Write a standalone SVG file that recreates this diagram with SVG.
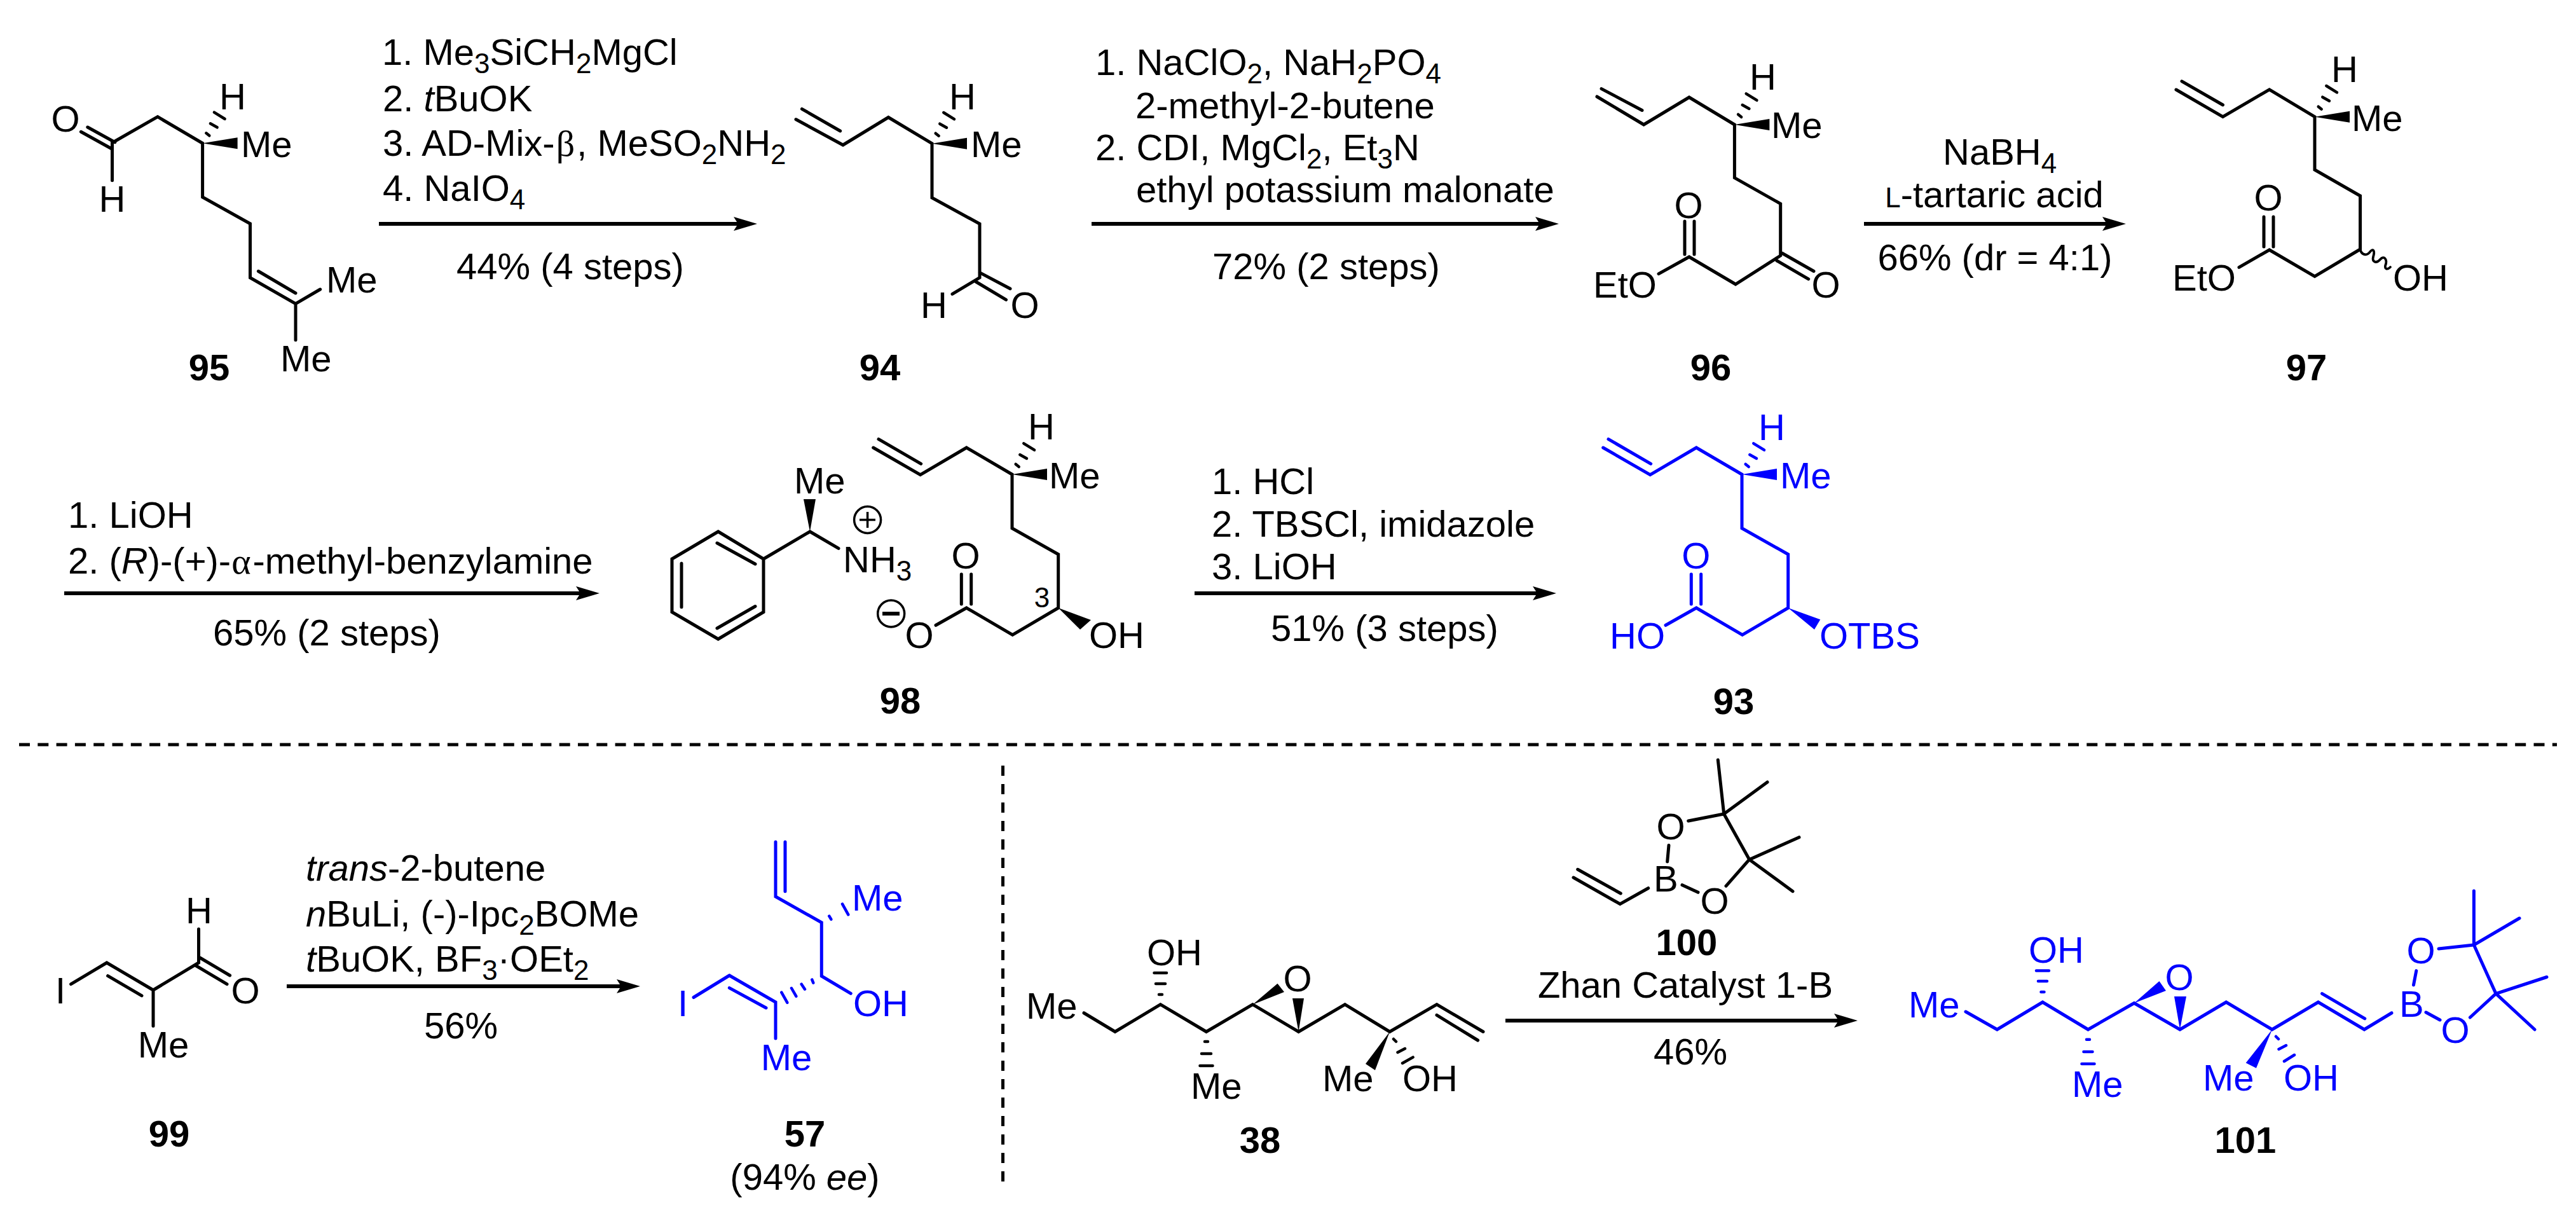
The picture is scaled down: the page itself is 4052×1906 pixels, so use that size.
<svg xmlns="http://www.w3.org/2000/svg" width="4052" height="1906" viewBox="0 0 4052 1906">
<style>
text{font-family:"Liberation Sans",Arial,sans-serif;font-size:58px;fill:currentColor}
.s{font-size:44px}
.g{font-family:"Liberation Serif","Times New Roman",serif}
.i{font-style:italic}
.m{text-anchor:middle}
.n{font-weight:bold;text-anchor:middle}
.b{fill:none;stroke:currentColor;stroke-width:5;stroke-linecap:round;stroke-linejoin:miter}
.h{fill:none;stroke:currentColor;stroke-width:4.5;stroke-linecap:round}
.w{fill:currentColor;stroke:none}
.blue{color:#0000ff}
.ar{stroke:#000;stroke-width:6;fill:none}
.dash{stroke:#000;fill:none;stroke-width:5}
</style>
<defs>
<marker id="head" markerUnits="userSpaceOnUse" markerWidth="40" markerHeight="26" viewBox="0 -13 40 26" refX="27" refY="0" orient="auto"><path d="M0,-11 L37,0 L0,11 L7,0Z" fill="#000"/></marker>
<g id="st">
<polygon class="w" points="0,0 55,-9 55,9"/>
<path class="h" d="M5.7,-16 L10.7,-12 M12.3,-31 L23,-25 M18.3,-48.7 L35,-38.3"/>
</g>
</defs>
<rect width="4052" height="1906" fill="#fff"/>

<g id="connectors">
<line class="ar" x1="596" y1="352" x2="1181" y2="352" marker-end="url(#head)"/>
<line class="ar" x1="1717" y1="352" x2="2442" y2="352" marker-end="url(#head)"/>
<line class="ar" x1="2932" y1="352" x2="3334" y2="352" marker-end="url(#head)"/>
<line class="ar" x1="101" y1="933" x2="933" y2="933" marker-end="url(#head)"/>
<line class="ar" x1="1879" y1="933" x2="2438" y2="933" marker-end="url(#head)"/>
<line class="ar" x1="451" y1="1551" x2="997" y2="1551" marker-end="url(#head)"/>
<line class="ar" x1="2368" y1="1605" x2="2912" y2="1605" marker-end="url(#head)"/>
</g>

<g id="separators">
<line class="dash" x1="30" y1="1171" x2="4022" y2="1171" stroke-dasharray="17 12.3"/>
<line class="dash" x1="1577.5" y1="1204" x2="1577.5" y2="1862" stroke-width="4" stroke-dasharray="16 13"/>
</g>

<g id="reagents-1">
<text x="601" y="102">1. Me<tspan class="s" dy="13">3</tspan><tspan dy="-13">SiCH</tspan><tspan class="s" dy="13">2</tspan><tspan dy="-13">MgCl</tspan></text>
<text x="602" y="175">2. <tspan class="i">t</tspan>BuOK</text>
<text x="602" y="245">3. AD-Mix-<tspan class="g" dx="2">β</tspan><tspan dx="3">, MeSO</tspan><tspan class="s" dy="13">2</tspan><tspan dy="-13">NH</tspan><tspan class="s" dy="13">2</tspan></text>
<text x="602" y="316">4. NaIO<tspan class="s" dy="13">4</tspan></text>
<text class="m" x="897" y="439">44% (4 steps)</text>
</g>
<g id="reagents-2">
<text x="1723" y="118">1. NaClO<tspan class="s" dy="13">2</tspan><tspan dy="-13">, NaH</tspan><tspan class="s" dy="13">2</tspan><tspan dy="-13">PO</tspan><tspan class="s" dy="13">4</tspan></text>
<text x="1786" y="186">2-methyl-2-butene</text>
<text x="1723" y="252">2. CDI, MgCl<tspan class="s" dy="13">2</tspan><tspan dy="-13">, Et</tspan><tspan class="s" dy="13">3</tspan><tspan dy="-13">N</tspan></text>
<text x="1787" y="318">ethyl potassium malonate</text>
<text class="m" x="2086" y="439">72% (2 steps)</text>
</g>
<g id="reagents-3">
<text x="3056" y="259">NaBH<tspan class="s" dy="13">4</tspan></text>
<text class="m" x="3137" y="326"><tspan class="s">L</tspan>-tartaric acid</text>
<text class="m" x="3138" y="425">66% (dr = 4:1)</text>
</g>
<g id="reagents-4">
<text x="107" y="830">1. LiOH</text>
<text x="107" y="902">2. (<tspan class="i">R</tspan>)-(+)-<tspan class="g" dx="1">α</tspan><tspan dx="3">-methyl-benzylamine</tspan></text>
<text class="m" x="514" y="1015">65% (2 steps)</text>
</g>
<g id="reagents-5">
<text x="1906" y="777">1. HCl</text>
<text x="1906" y="844">2. TBSCl, imidazole</text>
<text x="1906" y="911">3. LiOH</text>
<text class="m" x="2178" y="1008">51% (3 steps)</text>
</g>
<g id="reagents-6">
<text class="i" x="481" y="1385">trans<tspan style="font-style:normal">-2-butene</tspan></text>
<text x="481" y="1457"><tspan class="i">n</tspan>BuLi, (-)-Ipc<tspan class="s" dy="13">2</tspan><tspan dy="-13">BOMe</tspan></text>
<text x="481" y="1528"><tspan class="i">t</tspan>BuOK, BF<tspan class="s" dy="13">3</tspan><tspan dy="-13">·OEt</tspan><tspan class="s" dy="13">2</tspan></text>
<text class="m" x="725" y="1633">56%</text>
</g>
<g id="reagents-7">
<text class="m" x="2651" y="1569">Zhan Catalyst 1-B</text>
<text class="m" x="2659" y="1674">46%</text>
</g>

<g id="c95">
<path class="b" d="M176.5,283.7V224.5L248,183.7L318.6,225.3V310L393.5,351.8V436.7L465,477.6L503.7,455M465,477.6V534.7M406.4,426.5L465,461M180.8,223.7L137.8,200M174.8,233.5L127.4,207.3"/>
<use href="#st" x="318.6" y="225.3"/>
<text class="m" x="103" y="207">O</text>
<text class="m" x="176.5" y="333">H</text>
<text class="m" x="366" y="172">H</text>
<text x="379" y="247">Me</text>
<text x="513" y="460">Me</text>
<text x="441" y="584">Me</text>
<text class="n" x="329" y="598">95</text>
</g>

<g id="c94">
<path class="b" d="M1252,187.8L1326,228L1397.4,184.5L1466,225.7V311L1541,352V436.7L1498,462.4M1261.4,171.4L1321.7,206M1541,428.6L1589,454M1535,443L1582.5,471.4"/>
<use href="#st" x="1466" y="225.7"/>
<text class="m" x="1514" y="172">H</text>
<text x="1527" y="247">Me</text>
<text class="m" x="1469" y="500">H</text>
<text class="m" x="1612" y="500">O</text>
<text class="n" x="1384" y="598">94</text>
</g>

<g id="c96">
<path class="b" d="M2512,152L2585.6,196L2657,153L2728.4,196V279.6L2800.7,320.4V402L2730,447L2657,404L2609,430.6M2519,139.6L2583,173.5M2803,398L2853,426.5M2795,410L2844.7,438.8M2650,348V400M2665,348V400"/>
<use href="#st" x="2728.4" y="196"/>
<text class="m" x="2773" y="141">H</text>
<text x="2786" y="217">Me</text>
<text class="m" x="2656" y="343">O</text>
<text class="m" x="2872" y="468">O</text>
<text x="2506" y="468">EtO</text>
<text class="n" x="2691" y="598">96</text>
</g>

<g id="c97">
<path class="b" d="M3423,141L3496.5,183.7L3569.7,140.8L3641,183.7V267L3712.6,308V392L3641,434.7L3569.7,393L3522,420.4M3432,127.8L3496.5,165M3561,341V388M3576,341V388"/>
<path class="h" style="stroke-width:3.8" d="M3713,394C3716,402 3724,402 3728,396C3733,390 3736,394 3733,404C3731,412 3738,415 3744,408C3750,401 3756,408 3752,418C3751,424 3756,424 3760,420"/>
<use href="#st" x="3641" y="183.7"/>
<text class="m" x="3688" y="129">H</text>
<text x="3699" y="206">Me</text>
<text class="m" x="3568" y="331">O</text>
<text x="3417" y="457">EtO</text>
<text x="3764" y="457">OH</text>
<text class="n" x="3628" y="598">97</text>
</g>

<g id="c98">
<path class="b" d="M1129.7,836L1201,879V962.5L1129.7,1005L1057,962.5V879ZM1128,854L1188,887M1072,886V954.7M1128,988L1188,953.5M1201,879L1274,836L1319,862.4"/>
<polygon class="w" points="1274,836 1264,785 1283,785"/>
<path class="b" d="M1373.7,704L1447.7,746.7L1520.3,704L1592,746V830.7L1664.7,871.7V956L1592.7,998.3L1520.3,956L1472,983.3M1382,690.7L1448.7,729.3M1512.3,903V950M1527.7,903V950"/>
<use href="#st" x="1592" y="746"/>
<polygon class="w" points="1664.7,956 1716,975 1699,990"/>
<text x="1249" y="776">Me</text>
<text x="1326" y="900">NH<tspan class="s" dy="13">3</tspan></text>
<g fill="none" stroke="#000" stroke-width="3.5"><circle cx="1364.6" cy="817.5" r="21"/><path d="M1352,817.5H1377M1364.6,805V830"/></g>
<g fill="none" stroke="#000"><circle cx="1401.7" cy="965" r="21" stroke-width="3.5"/><path d="M1388,965H1415" stroke-width="6"/></g>
<text class="m" x="1446" y="1019">O</text>
<text class="m" x="1519" y="894">O</text>
<text class="m" x="1638" y="691">H</text>
<text x="1650" y="768">Me</text>
<text class="s m" x="1639" y="955">3</text>
<text x="1713" y="1019">OH</text>
<text class="n" x="1416" y="1122">98</text>
</g>

<g id="c93" class="blue">
<path class="b" d="M2521.7,704L2595.7,746.7L2668.3,704L2740,746V830.7L2812.7,871.7V956L2740.7,998.3L2668.3,956L2620,983.3M2530,690.7L2596.7,729.3M2660.3,903V950M2675.7,903V950"/>
<use href="#st" x="2740" y="746"/>
<polygon class="w" points="2812.7,956 2863.3,974.3 2854,990"/>
<text class="m" x="2787" y="692">H</text>
<text x="2800" y="768">Me</text>
<text class="m" x="2667.7" y="894">O</text>
<text x="2532" y="1020">HO</text>
<text x="2862" y="1020">OTBS</text>
</g>
<text id="label93" class="n" x="2727" y="1123">93</text>

<g id="c99">
<path class="b" d="M111.6,1547.7L167.9,1514L241,1557L312.5,1514M169.6,1534.7L223,1565.8M241,1557V1613.5M312.5,1514V1461M314.3,1506L361.6,1534M308,1518.5L357,1547.7"/>
<text class="m" x="95" y="1578">I</text>
<text class="m" x="257" y="1663">Me</text>
<text class="m" x="313" y="1452">H</text>
<text class="m" x="386" y="1578">O</text>
<text class="n" x="266" y="1803">99</text>
</g>

<g id="c57" class="blue">
<path class="b" d="M1220,1324V1410L1292.3,1450.7V1535L1338.3,1562.3M1235,1324V1401.7M1147.3,1534L1220,1576V1633M1147.3,1534L1091,1568.5M1147.3,1553.6L1205,1585"/>
<path class="h" d="M1304.3,1440.7L1307.3,1445.7M1325,1421.7L1334.3,1438.3M1277.3,1540.7L1279.3,1545.7M1260.7,1547.7L1266,1555.7M1245,1554L1252.3,1566.7M1229.3,1560.7L1238.3,1576.7"/>
<text x="1340" y="1432">Me</text>
<text x="1342" y="1598">OH</text>
<text class="m" x="1074" y="1598">I</text>
<text class="m" x="1237" y="1683">Me</text>
</g>
<g id="label57">
<text class="n" x="1266" y="1803">57</text>
<text class="m" x="1266" y="1871">(94% <tspan class="i">ee</tspan>)</text>
</g>

<g id="c38">
<path class="b" d="M1705,1593L1754,1622.5L1825.4,1579.7L1897.5,1622.5L1970.5,1579.7L2042.6,1622.5L2115.6,1579.7L2186,1622.5L2260,1579.7L2333,1622.5M2260,1596.4L2324.6,1636"/>
<path class="h" d="M1823,1564H1828M1818,1547H1833M1815.5,1530H1835M1895,1638H1900M1890,1657H1905M1887.5,1676H1907.5M2192,1634L2196,1638M2198.5,1655L2210,1649M2206,1672L2222.6,1662.6"/>
<polygon class="w" points="1970.5,1579.7 2009.5,1546.8 2020,1560"/>
<polygon class="w" points="2042.6,1622.5 2033,1570 2051,1570"/>
<polygon class="w" points="2186,1622.5 2148,1673 2163,1683"/>
<text x="1614" y="1602">Me</text>
<text x="1804" y="1518">OH</text>
<text class="m" x="2041" y="1559">O</text>
<text x="1873" y="1728">Me</text>
<text x="2080" y="1716">Me</text>
<text x="2206" y="1716">OH</text>
<text class="n" x="1982" y="1813">38</text>
</g>

<g id="c100">
<path class="b" d="M2475,1380L2548.3,1421.7L2592.7,1396.7M2481.7,1367.3L2549.3,1405M2625,1329.3L2622.7,1355M2655.7,1291L2711.7,1280L2702.3,1195M2711.7,1280L2780,1230M2711.7,1280L2751.7,1351.7L2830,1316.7M2751.7,1351.7L2820,1401.7M2751.7,1351.7L2715,1393.3M2646,1391.7L2671,1403.3"/>
<text x="2601" y="1402">B</text>
<text class="m" x="2628" y="1320">O</text>
<text class="m" x="2697" y="1437">O</text>
<text class="n" x="2653" y="1502">100</text>
</g>

<g id="c101" class="blue">
<path class="b" d="M3092,1591L3141.4,1619L3213,1576L3284.5,1619L3357,1577.5L3429,1619L3501.7,1576L3574,1619L3646.5,1576L3719,1619L3762,1593M3652.6,1562.6L3719.8,1601.8M3796.5,1549L3800.8,1526.6M3836,1492L3891.4,1486V1401M3891.4,1486L3963,1444M3891.4,1486L3926,1562.6L4006,1536.5M3926,1562.6L3987,1619M3926,1562.6L3885.4,1600M3816,1592L3838,1604"/>
<path class="h" d="M3210.5,1560H3215.5M3206,1543H3220M3203,1526.6H3223M3282,1634.7H3287M3277.5,1654H3291.5M3274.5,1673H3294.5M3580,1630L3584,1634M3584.5,1650L3596,1644M3593,1669L3609,1659"/>
<polygon class="w" points="3357,1577.5 3396.5,1543 3407,1558"/>
<polygon class="w" points="3429,1619 3420,1567 3439,1567"/>
<polygon class="w" points="3574,1619 3532.7,1671.6 3549,1679.7"/>
<text x="3002" y="1600">Me</text>
<text x="3191" y="1514">OH</text>
<text class="m" x="3428" y="1557">O</text>
<text x="3259" y="1725">Me</text>
<text x="3465" y="1715">Me</text>
<text x="3592" y="1715">OH</text>
<text x="3774" y="1599">B</text>
<text class="m" x="3808" y="1515">O</text>
<text class="m" x="3862" y="1640">O</text>
</g>
<text id="label101" class="n" x="3532" y="1813">101</text>
</svg>
